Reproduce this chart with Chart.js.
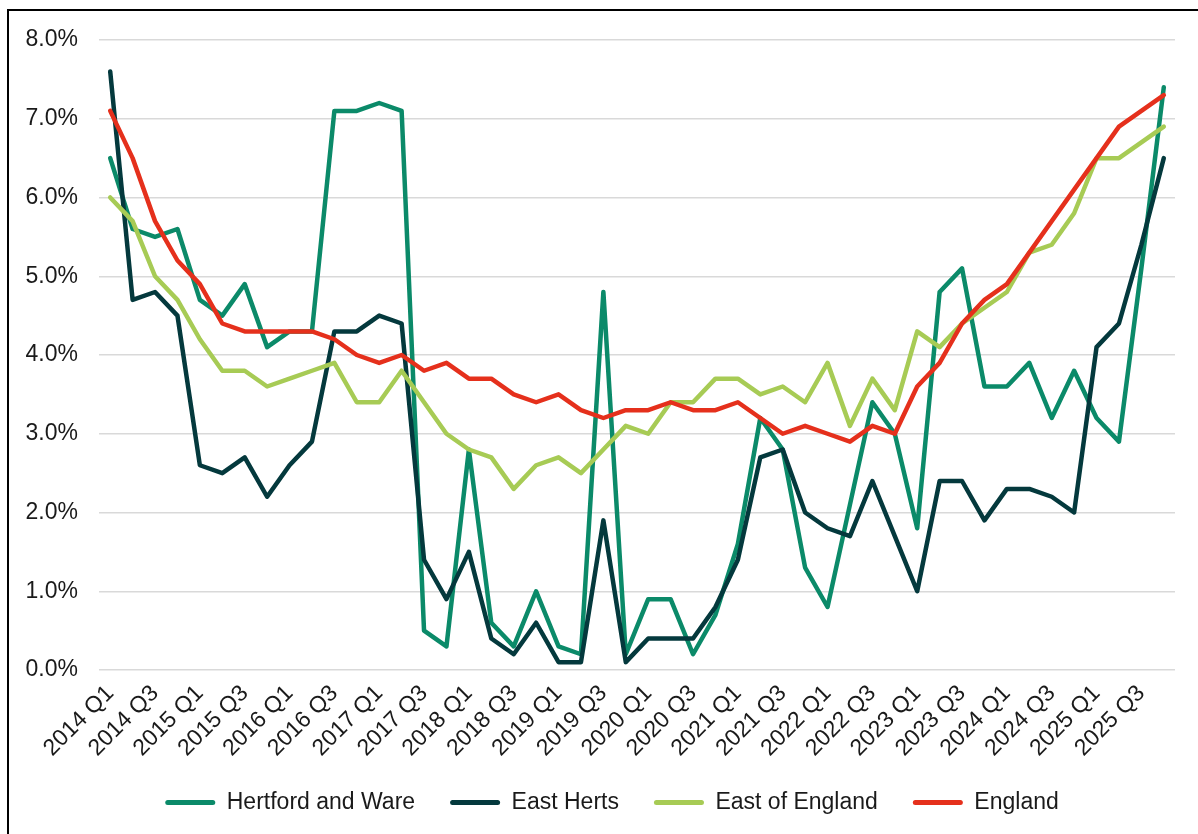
<html>
<head>
<title>Quarterly rate</title>
<script src="https://cdn.jsdelivr.net/npm/chart.js@4/dist/chart.umd.min.js"></script>
<style>
  body { margin: 0; background: #fff; overflow: hidden; }
  #frame { position: absolute; left: 7px; top: 9px; width: 1400px; height: 1000px;
           border-left: 2px solid #000; border-top: 2px solid #000; }
  #wrap { position: absolute; left: 0; top: 0; width: 1198px; height: 834px; }
</style>
</head>
<body>
<div id="frame"></div>
<div id="wrap"><canvas id="myChart" width="1198" height="834"></canvas></div>
<script type="text/javascript">
// quarters 2014 Q1 .. 2025 Q4
var years = [2014, 2015, 2016, 2017, 2018, 2019, 2020, 2021, 2022, 2023, 2024, 2025];
var quarters = ["Q1", "Q2", "Q3", "Q4"];
var labels = [];
years.forEach(function (y) {
    quarters.forEach(function (q) { labels.push(y + " " + q); });
});

// values in percent
var hertfordWare = [6.5, 5.6, 5.5, 5.6, 4.7, 4.5, 4.9, 4.1, 4.3, 4.3, 7.1, 7.1,
                    7.2, 7.1, 0.5, 0.3, 2.8, 0.6, 0.3, 1.0, 0.3, 0.2, 4.8, 0.2,
                    0.9, 0.9, 0.2, 0.7, 1.6, 3.2, 2.8, 1.3, 0.8, 2.1, 3.4, 3.0,
                    1.8, 4.8, 5.1, 3.6, 3.6, 3.9, 3.2, 3.8, 3.2, 2.9, 5.1, 7.4];
var eastHerts = [7.6, 4.7, 4.8, 4.5, 2.6, 2.5, 2.7, 2.2, 2.6, 2.9, 4.3, 4.3,
                 4.5, 4.4, 1.4, 0.9, 1.5, 0.4, 0.2, 0.6, 0.1, 0.1, 1.9, 0.1,
                 0.4, 0.4, 0.4, 0.8, 1.4, 2.7, 2.8, 2.0, 1.8, 1.7, 2.4, 1.7,
                 1.0, 2.4, 2.4, 1.9, 2.3, 2.3, 2.2, 2.0, 4.1, 4.4, 5.4, 6.5];
var eastOfEngland = [6.0, 5.7, 5.0, 4.7, 4.2, 3.8, 3.8, 3.6, 3.7, 3.8, 3.9, 3.4,
                     3.4, 3.8, 3.4, 3.0, 2.8, 2.7, 2.3, 2.6, 2.7, 2.5, 2.8, 3.1,
                     3.0, 3.4, 3.4, 3.7, 3.7, 3.5, 3.6, 3.4, 3.9, 3.1, 3.7, 3.3,
                     4.3, 4.1, 4.4, 4.6, 4.8, 5.3, 5.4, 5.8, 6.5, 6.5, 6.7, 6.9];
var england = [7.1, 6.5, 5.7, 5.2, 4.9, 4.4, 4.3, 4.3, 4.3, 4.3, 4.2, 4.0,
               3.9, 4.0, 3.8, 3.9, 3.7, 3.7, 3.5, 3.4, 3.5, 3.3, 3.2, 3.3,
               3.3, 3.4, 3.3, 3.3, 3.4, 3.2, 3.0, 3.1, 3.0, 2.9, 3.1, 3.0,
               3.6, 3.9, 4.4, 4.7, 4.9, 5.3, 5.7, 6.1, 6.5, 6.9, 7.1, 7.3];

var seriesNames = ["Hertford and Ware", "East Herts", "East of England", "England"];
var seriesData = [hertfordWare, eastHerts, eastOfEngland, england];
var seriesColors = ["#0B8A69", "#04393D", "#A7CB55", "#E5301C"];

var yTicks = [0, 1, 2, 3, 4, 5, 6, 7, 8];

var datasets = seriesNames.map(function (name, i) {
    return {
        label: name,
        data: seriesData[i],
        borderColor: seriesColors[i],
        backgroundColor: seriesColors[i],
        borderWidth: 4.5,
        pointRadius: 0,
        pointHoverRadius: 0,
        tension: 0,
        borderJoinStyle: 'round',
        borderCapStyle: 'round',
        order: seriesNames.length - i
    };
});

// nudge the legend a little to the right, like the original
var legendShift = {
    id: 'legendShift',
    afterLayout: function (chart) {
        if (chart.legend) {
            chart.legend.left += 22;
            chart.legend.right += 22;
        }
    }
};

Chart.defaults.font.family = "'Liberation Sans', Arial, sans-serif";
Chart.defaults.color = '#1a1a1a';

var ctx = document.getElementById("myChart").getContext('2d');
var myChart = new Chart(ctx, {
    type: 'line',
    data: { labels: labels, datasets: datasets },
    plugins: [legendShift],
    options: {
        responsive: false,
        animation: false,
        layout: { padding: { left: 5, right: 23, top: 40, bottom: 10 } },
        scales: {
            x: {
                offset: true,
                grid: { display: false, drawTicks: false },
                border: { display: false },
                afterFit: function (scale) {
                    // keep the rotated first label from pushing the plot right
                    scale.paddingLeft = 0;
                    scale.height = 86;
                },
                ticks: {
                    autoSkip: false,
                    minRotation: 45,
                    maxRotation: 45,
                    padding: 10,
                    font: { size: 23 },
                    callback: function (val, idx) {
                        return idx % 2 === 0 ? labels[idx] : '';
                    }
                }
            },
            y: {
                min: yTicks[0],
                max: yTicks[yTicks.length - 1],
                afterBuildTicks: function (axis) {
                    axis.ticks = yTicks.map(function (v) { return { value: v }; });
                },
                afterFit: function (scale) {
                    scale.width = 94;
                },
                grid: { color: '#D9D9D9', lineWidth: 1.5, drawTicks: false },
                border: { display: false },
                ticks: {
                    padding: 21,
                    font: { size: 23 },
                    callback: function (v) { return v.toFixed(1) + '%'; }
                }
            }
        },
        plugins: {
            tooltip: { enabled: false },
            legend: {
                position: 'bottom',
                labels: {
                    boxWidth: 50,
                    boxHeight: 5,
                    padding: 35,
                    font: { size: 23 },
                    sort: function (a, b) { return a.datasetIndex - b.datasetIndex; },
                    generateLabels: function (chart) {
                        var items = Chart.defaults.plugins.legend.labels.generateLabels(chart);
                        items.forEach(function (it) { it.lineWidth = 0; it.borderRadius = 2.5; });
                        return items;
                    }
                }
            }
        }
    }
});
</script>
</body>
</html>
